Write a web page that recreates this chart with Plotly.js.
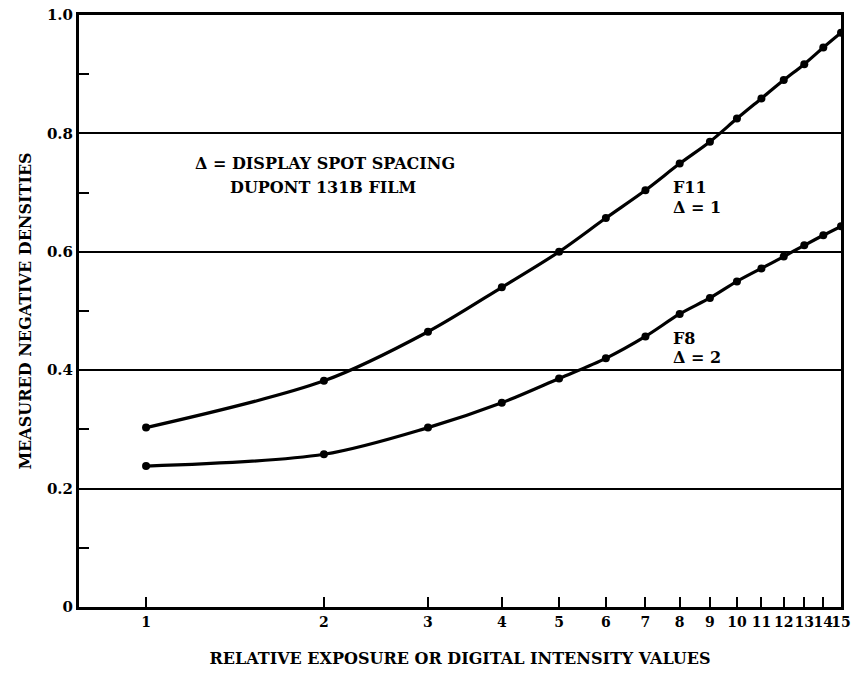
<!DOCTYPE html>
<html>
<head>
<meta charset="utf-8">
<script src="https://cdn.plot.ly/plotly-3.0.1.min.js"></script>
<style>html,body{margin:0;padding:0;background:#fff;}#chart{width:856px;height:675px;}</style>
</head>
<body>
<div id="chart"></div>
<script>
// Data
const exposure = [1, 2, 3, 4, 5, 6, 7, 8, 9, 10, 11, 12, 13, 14, 15];
const densityF11 = [0.303, 0.382, 0.465, 0.540, 0.600, 0.657, 0.704, 0.749, 0.786, 0.825, 0.859, 0.890, 0.917, 0.945, 0.970];
const densityF8  = [0.238, 0.258, 0.303, 0.345, 0.386, 0.420, 0.457, 0.495, 0.522, 0.550, 0.572, 0.592, 0.611, 0.628, 0.643];
const xTickVals = [1, 2, 3, 4, 5, 6, 7, 8, 9, 10, 11, 12, 13, 14, 15];
const xTickText = ["1", "2", "3", "4", "5", "6", "7", "8", "9", "10", "11", "12", "13", "14", "15"];
const yTickVals = [0, 0.2, 0.4, 0.6, 0.8, 1.0];
const yTickText = ["0", "0.2", "0.4", "0.6", "0.8", "1.0"];
const yMinorVals = [0.1, 0.3, 0.5, 0.7, 0.9];

const FONT = "DejaVu Serif, Liberation Serif, serif";

const lineStyle = {color: "#000", width: 3.2, shape: "spline", smoothing: 0.9};
const markerStyle = {color: "#000", size: 8, symbol: "circle"};

const traces = [
  {x: exposure, y: densityF11, mode: "lines+markers", line: lineStyle, marker: markerStyle, showlegend: false},
  {x: exposure, y: densityF8, mode: "lines+markers", line: lineStyle, marker: markerStyle, showlegend: false}
];

const annFont = {family: FONT, size: 16, color: "#000", weight: "bold"};
function ann(text, x, y) {
  return {text: text, xref: "paper", yref: "paper", x: x, y: y, xanchor: "left", yanchor: "middle", showarrow: false, font: annFont};
}

const layout = {
  width: 856, height: 675,
  margin: {l: 79, r: 15, t: 15, b: 68},
  paper_bgcolor: "#fff", plot_bgcolor: "#fff",
  font: {family: FONT, size: 16, color: "#000", weight: "bold"},
  showlegend: false,
  xaxis: {
    type: "log",
    range: [Math.log10(0.77), Math.log10(15)],
    tickmode: "array", tickvals: xTickVals, ticktext: xTickText,
    tickangle: 0,
    ticks: "inside", ticklen: 10, tickwidth: 2, tickcolor: "#000",
    showgrid: false, zeroline: false,
    showline: true, linecolor: "#000", linewidth: 3, mirror: true,
    tickfont: {family: FONT, size: 14, color: "#000", weight: "bold"},
    title: {text: "RELATIVE EXPOSURE OR DIGITAL INTENSITY VALUES", standoff: 25,
            font: {family: FONT, size: 16, color: "#000", weight: "bold"}}
  },
  yaxis: {
    range: [0, 1.0],
    tickmode: "array", tickvals: yTickVals, ticktext: yTickText,
    ticks: "", showgrid: true, gridcolor: "#000", gridwidth: 2,
    zeroline: false,
    showline: true, linecolor: "#000", linewidth: 3, mirror: true,
    minor: {tickmode: "array", tickvals: yMinorVals, ticks: "inside", ticklen: 10, tickwidth: 2, tickcolor: "#000", showgrid: false},
    tickfont: {family: FONT, size: 15, color: "#000", weight: "bold"},
    title: {text: "MEASURED NEGATIVE DENSITIES", standoff: 12,
            font: {family: FONT, size: 16, color: "#000", weight: "bold"}}
  },
  annotations: [
    ann("Δ = DISPLAY SPOT SPACING", 0.1496, 0.750),
    ann("DUPONT 131B FILM", 0.1955, 0.708),
    ann("F11", 0.777, 0.708),
    ann("Δ = 1", 0.777, 0.674),
    ann("F8", 0.777, 0.454),
    ann("Δ = 2", 0.777, 0.422)
  ]
};

Plotly.newPlot("chart", traces, layout, {displayModeBar: false, staticPlot: true});
</script>
</body>
</html>
